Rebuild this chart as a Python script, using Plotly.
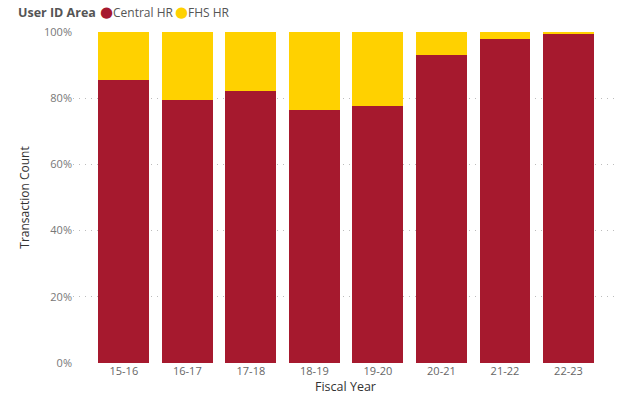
import plotly.graph_objects as go

fiscal_years = ["15-16", "16-17", "17-18", "18-19", "19-20", "20-21", "21-22", "22-23"]
central_hr_pct = [85.5, 79.4, 82.1, 76.4, 77.6, 93.0, 97.9, 99.5]
fhs_hr_pct = [round(100 - v, 1) for v in central_hr_pct]
y_ticks = [0, 20, 40, 60, 80, 100]
y_tick_labels = ["0%", "20%", "40%", "60%", "80%", "100%"]
series_names = ["Central HR", "FHS HR"]
legend_title = "User ID Area"

RED = "#A6192E"
YELLOW = "#FFD100"
FONT = "Open Sans"

W, H = 623, 400
ML, MR, MT, MB = 73, 5, 32, 37
PW, PH = W - ML - MR, H - MT - MB


def px_x(px):
    return (px - ML) / PW


def px_y(py):
    return (H - MB - py) / PH


fig = go.Figure()
fig.add_trace(go.Bar(x=fiscal_years, y=central_hr_pct, name=series_names[0],
                     marker=dict(color=RED, line=dict(width=0)), width=0.8, showlegend=False))
fig.add_trace(go.Bar(x=fiscal_years, y=fhs_hr_pct, name=series_names[1],
                     marker=dict(color=YELLOW, line=dict(width=0)), width=0.8, showlegend=False))

ly = px_y(12)
legend_items = [
    (17, f"<b>{legend_title}</b>", "#555555", 12.5, FONT),
    (99, "●", RED, 15, "DejaVu Sans"),
    (112, series_names[0], "#555555", 12, FONT),
    (174, "●", YELLOW, 15, "DejaVu Sans"),
    (187, series_names[1], "#555555", 12, FONT),
]
for xp, txt, col, sz, fam in legend_items:
    fig.add_annotation(x=px_x(xp), y=ly, xref="paper", yref="paper", text=txt,
                       showarrow=False, xanchor="left", yanchor="middle",
                       borderpad=0, font=dict(family=fam, size=sz, color=col))

fig.update_layout(
    width=W, height=H,
    barmode="stack",
    showlegend=False,
    plot_bgcolor="white", paper_bgcolor="white",
    margin=dict(l=ML, r=MR, t=MT, b=MB, autoexpand=False),
    font=dict(family=FONT, size=11, color="#666666"),
    xaxis=dict(title=dict(text="Fiscal Year", font=dict(size=12.5, color="#333333"), standoff=4),
               range=[-0.8, 7.78], showgrid=False, showline=False, zeroline=False,
               ticks="", tickfont=dict(size=11, color="#666666")),
    yaxis=dict(title=dict(text="Transaction Count", font=dict(size=12, color="#333333"), standoff=11),
               range=[0, 100], tickmode="array", tickvals=y_ticks, ticktext=y_tick_labels,
               showgrid=True, gridcolor="#BDBDBD", griddash="1px,5px", gridwidth=1,
               zeroline=False, showline=False, ticks="",
               tickfont=dict(size=11, color="#777777")),
)
fig.write_html("out.html")
